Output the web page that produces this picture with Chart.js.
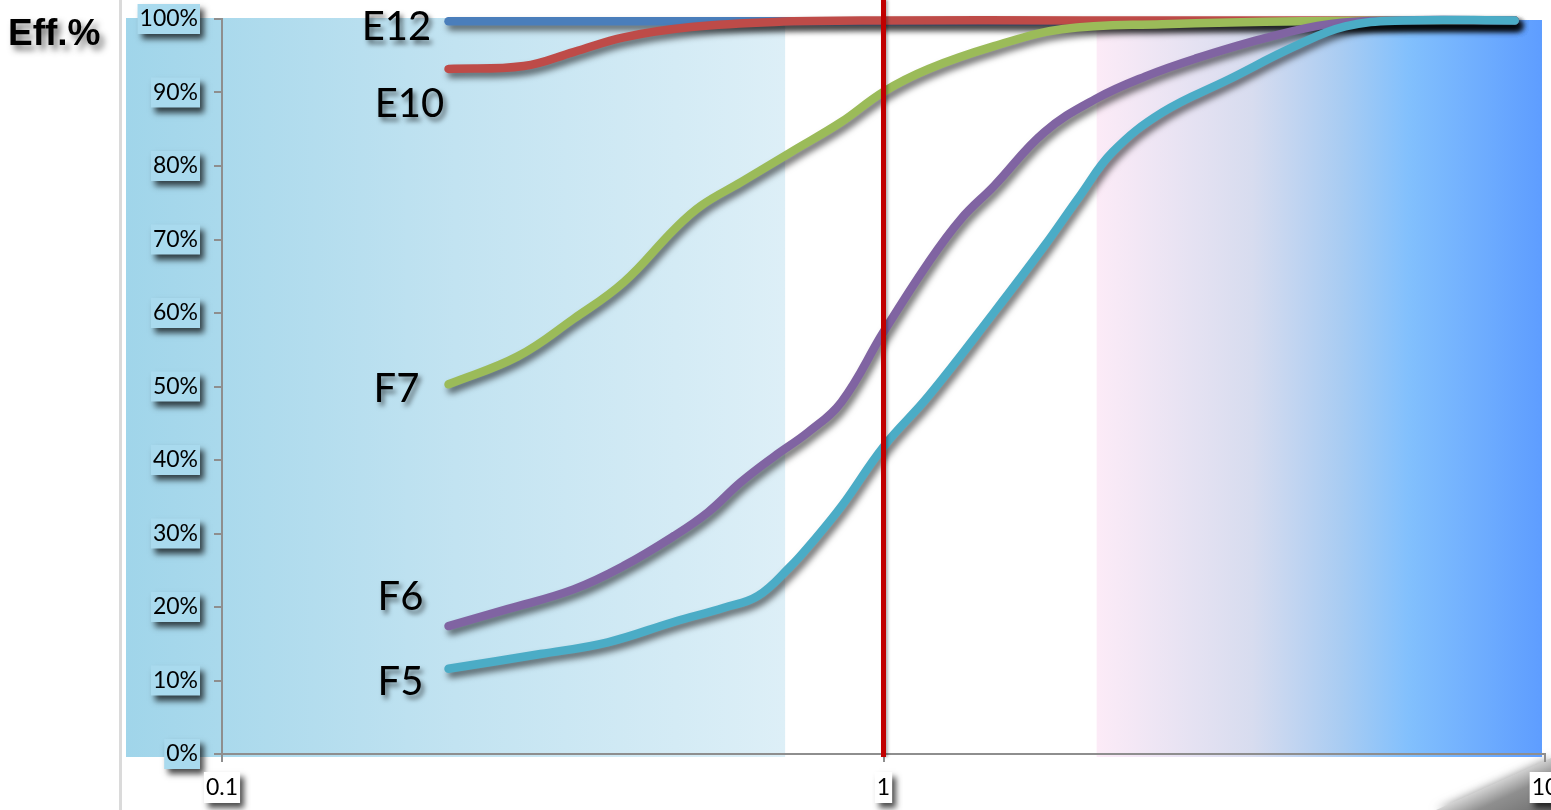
<!DOCTYPE html>
<html><head><meta charset="utf-8">
<script src="https://cdn.jsdelivr.net/npm/chart.js@4.4.1/dist/chart.umd.min.js"></script>
<style>html,body{margin:0;padding:0;background:#fff;overflow:hidden}#wrap{position:relative;width:1551px;height:810px}</style>
</head><body><div id="wrap"><canvas id="c" width="1551" height="810"></canvas></div>
<script>
// ---- data ----
const seriesNames = ['E12', 'E10', 'F7', 'F6', 'F5'];
const xE12 = [0.22, 1, 9];
const yE12 = [99.7, 99.7, 99.7];
const xE10 = [0.22, 0.286, 0.34, 0.405, 0.512, 0.684, 1.0, 2.0, 9];
const yE10 = [93.2, 93.6, 95.5, 97.5, 98.9, 99.6, 99.8, 99.8, 99.8];
const xF7 = [0.22, 0.28, 0.34, 0.405, 0.483, 0.53, 0.609, 0.725, 0.864, 1.0, 1.17, 1.47, 1.86, 2.64, 4.3, 9];
const yF7 = [50.3, 54.1, 59.2, 64.2, 71.4, 74.6, 77.8, 81.9, 86.0, 90.1, 93.2, 96.3, 98.6, 99.3, 99.7, 99.8];
const xF6 = [0.22, 0.27, 0.34, 0.405, 0.483, 0.543, 0.609, 0.684, 0.77, 0.864, 1.0, 1.17, 1.31, 1.47, 1.75, 2.09, 2.49, 2.96, 3.74, 4.72, 6.09, 9];
const yF6 = [17.4, 19.7, 22.4, 25.6, 29.7, 32.9, 37.0, 40.5, 43.8, 47.9, 57.4, 66.9, 72.8, 77.3, 84.6, 89.1, 92.2, 94.6, 97.3, 99.3, 99.8, 99.8];
const xF5 = [0.22, 0.303, 0.383, 0.483, 0.574, 0.646, 0.725, 0.77, 0.864, 1.0, 1.17, 1.47, 1.75, 1.98, 2.22, 2.64, 3.33, 4.19, 4.99, 6.09, 9];
const yF5 = [11.6, 13.6, 15.2, 18.0, 19.9, 21.5, 25.6, 28.2, 33.7, 41.8, 48.7, 60.1, 69.1, 75.9, 81.9, 87.3, 91.8, 96.3, 99.0, 99.8, 99.8];
const xTickValues = [0.1, 1, 10];
const xTickLabels = ['0.1', '1', '10'];
const yTickValues = [0, 10, 20, 30, 40, 50, 60, 70, 80, 90, 100];
const yAxisTitle = 'Eff.%';
const markerX = 1;
const bandEdges = [0.71, 2.1];

// ---- styles ----
const colors = ['#4a7ebb', '#be4b48', '#9bbb59', '#8064a2', '#4bacc6'];
const labelOffsets = [[-52, 6], [-39, 35], [-52, 5], [-48, -29], [-48, 13]];
const TICK_FONT = '23px Lato';

function pts(xs, ys) { return xs.map((x, i) => ({ x: x, y: ys[i] })); }
const seriesX = [xE12, xE10, xF7, xF6, xF5];
const seriesY = [yE12, yE10, yF7, yF6, yF5];

const datasets = seriesNames.map((n, i) => ({
  label: n,
  data: pts(seriesX[i], seriesY[i]),
  borderColor: colors[i],
  backgroundColor: colors[i],
  borderWidth: 8.5,
  borderCapStyle: 'round',
  borderJoinStyle: 'round',
  pointRadius: 0,
  tension: 0.4,
  fill: false,
  clip: false,
  order: seriesNames.length - i
}));

function shadowBox(ctx, x, y, w, h, fill) {
  ctx.save();
  ctx.shadowColor = 'rgba(0,0,0,0.7)';
  ctx.shadowBlur = 6;
  ctx.shadowOffsetX = 4;
  ctx.shadowOffsetY = 5;
  ctx.fillStyle = fill;
  ctx.fillRect(x, y, w, h);
  ctx.restore();
}

const decor = {
  id: 'decor',
  beforeDraw(chart) {
    const ctx = chart.ctx, ca = chart.chartArea, xs = chart.scales.x, ys = chart.scales.y;
    const W = chart.width, H = chart.height;
    ctx.save();
    // corner shading (page curl)
    ctx.save();
    ctx.beginPath();
    ctx.moveTo(1436, H); ctx.lineTo(W, 758); ctx.lineTo(W, H); ctx.closePath();
    const cg = ctx.createLinearGradient(1493, 783, 1515, 830);
    cg.addColorStop(0, '#d6d6d6');
    cg.addColorStop(0.35, '#8f8f8f');
    cg.addColorStop(1, '#6c6c6c');
    ctx.fillStyle = cg;
    ctx.shadowColor = 'rgba(120,120,120,0.8)';
    ctx.shadowBlur = 10;
    ctx.fill();
    ctx.restore();
    // left frame line
    ctx.fillStyle = '#dadada';
    ctx.fillRect(119, 0, 3, H);
    // left band
    const lx0 = ca.left - 96, lx1 = xs.getPixelForValue(bandEdges[0]);
    let g = ctx.createLinearGradient(lx0, 0, lx1, 0);
    g.addColorStop(0, '#a0d5ea');
    g.addColorStop(0.5, '#c2e3f1');
    g.addColorStop(1, '#ddeff7');
    ctx.fillStyle = g;
    ctx.fillRect(lx0, ca.top - 1, lx1 - lx0, ca.bottom + 4 - ca.top);
    // right band
    const rx0 = xs.getPixelForValue(bandEdges[1]), rx1 = ca.right - 3;
    g = ctx.createLinearGradient(rx0, 0, rx1, 0);
    g.addColorStop(0, '#fcebf7');
    g.addColorStop(0.35, '#d7dcef');
    g.addColorStop(0.55, '#a9ccf2');
    g.addColorStop(0.7, '#82c0fd');
    g.addColorStop(1, '#5e9dff');
    ctx.fillStyle = g;
    ctx.fillRect(rx0, ca.top + 1, rx1 - rx0, ca.bottom + 3 - ca.top - 1);
    // axis title
    ctx.save();
    ctx.shadowColor = 'rgba(0,0,0,0.55)';
    ctx.shadowBlur = 6; ctx.shadowOffsetX = 4; ctx.shadowOffsetY = 5;
    ctx.fillStyle = '#000';
    ctx.font = 'bold 37px "Liberation Sans", Arial, sans-serif';
    ctx.textAlign = 'left'; ctx.textBaseline = 'alphabetic';
    ctx.fillText(yAxisTitle, 8, 45);
    ctx.restore();
    // tick label boxes
    ctx.font = TICK_FONT;
    const yRight = ca.left - 8 - 16;
    yTickValues.forEach(v => {
      const t = v + '%';
      const w = ctx.measureText(t).width;
      const py = ys.getPixelForValue(v);
      shadowBox(ctx, yRight - w - 2, py - 15, w + 4, 30, '#a9daee');
    });
    xTickValues.forEach((v, i) => {
      const t = xTickLabels[i];
      const w = ctx.measureText(t).width;
      const px = xs.getPixelForValue(v);
      shadowBox(ctx, px - w / 2 - 2, ca.bottom + 18, w + 4, 31, '#ffffff');
    });
    ctx.restore();
  },
  beforeDatasetDraw(chart) {
    const ctx = chart.ctx;
    ctx.save();
    ctx.shadowColor = 'rgba(0,0,0,0.55)';
    ctx.shadowBlur = 6;
    ctx.shadowOffsetX = 3;
    ctx.shadowOffsetY = 5;
  },
  afterDatasetDraw(chart) { chart.ctx.restore(); },
  afterDatasetsDraw(chart) {
    const ctx = chart.ctx, ca = chart.chartArea, xs = chart.scales.x, ys = chart.scales.y;
    ctx.save();
    // marker line at x = 1
    const mx = xs.getPixelForValue(markerX);
    ctx.shadowColor = 'rgba(0,0,0,0.3)';
    ctx.shadowBlur = 3; ctx.shadowOffsetX = 2; ctx.shadowOffsetY = 0;
    ctx.strokeStyle = '#c00000';
    ctx.lineWidth = 5;
    ctx.beginPath(); ctx.moveTo(mx, 0); ctx.lineTo(mx, ca.bottom + 3); ctx.stroke();
    // series labels
    ctx.shadowColor = 'rgba(0,0,0,0.55)';
    ctx.shadowBlur = 5; ctx.shadowOffsetX = 3; ctx.shadowOffsetY = 4;
    ctx.fillStyle = '#000';
    ctx.font = '40px Lato';
    ctx.textAlign = 'center'; ctx.textBaseline = 'middle';
    seriesNames.forEach((n, i) => {
      const px = xs.getPixelForValue(seriesX[i][0]) + labelOffsets[i][0];
      const py = ys.getPixelForValue(seriesY[i][0]) + labelOffsets[i][1];
      ctx.fillText(n, px, py);
    });
    ctx.restore();
  }
};

new Chart(document.getElementById('c'), {
  type: 'line',
  data: { datasets: datasets },
  options: {
    responsive: false,
    devicePixelRatio: 1,
    animation: false,
    layout: { padding: { top: 19, right: 6, bottom: 0, left: 0 } },
    plugins: { legend: { display: false }, tooltip: { enabled: false } },
    scales: {
      x: {
        type: 'logarithmic',
        min: 0.1, max: 10,
        afterBuildTicks: s => { s.ticks = xTickValues.map(v => ({ value: v })); },
        afterFit: s => { s.height = 56; s.paddingLeft = 0; s.paddingRight = 0; },
        ticks: {
          autoSkip: false, maxRotation: 0, minRotation: 0, padding: 12,
          color: '#000', font: { family: 'Lato', size: 23 },
          callback: (v, i) => xTickLabels[i]
        },
        grid: { drawOnChartArea: false, drawTicks: true, tickLength: 8, color: '#8e8e8e', lineWidth: 2 },
        border: { display: true, color: '#8e8e8e', width: 2 }
      },
      y: {
        type: 'linear',
        min: 0, max: 100,
        afterBuildTicks: s => { s.ticks = yTickValues.map(v => ({ value: v })); },
        afterFit: s => { s.width = 222; s.paddingTop = 0; s.paddingBottom = 0; },
        ticks: {
          padding: 16, color: '#000', font: { family: 'Lato', size: 23 },
          callback: v => v + '%'
        },
        grid: { drawOnChartArea: false, drawTicks: true, tickLength: 8, color: '#8e8e8e', lineWidth: 2 },
        border: { display: true, color: '#8e8e8e', width: 2 }
      }
    }
  },
  plugins: [decor]
});
</script>
</body></html>
